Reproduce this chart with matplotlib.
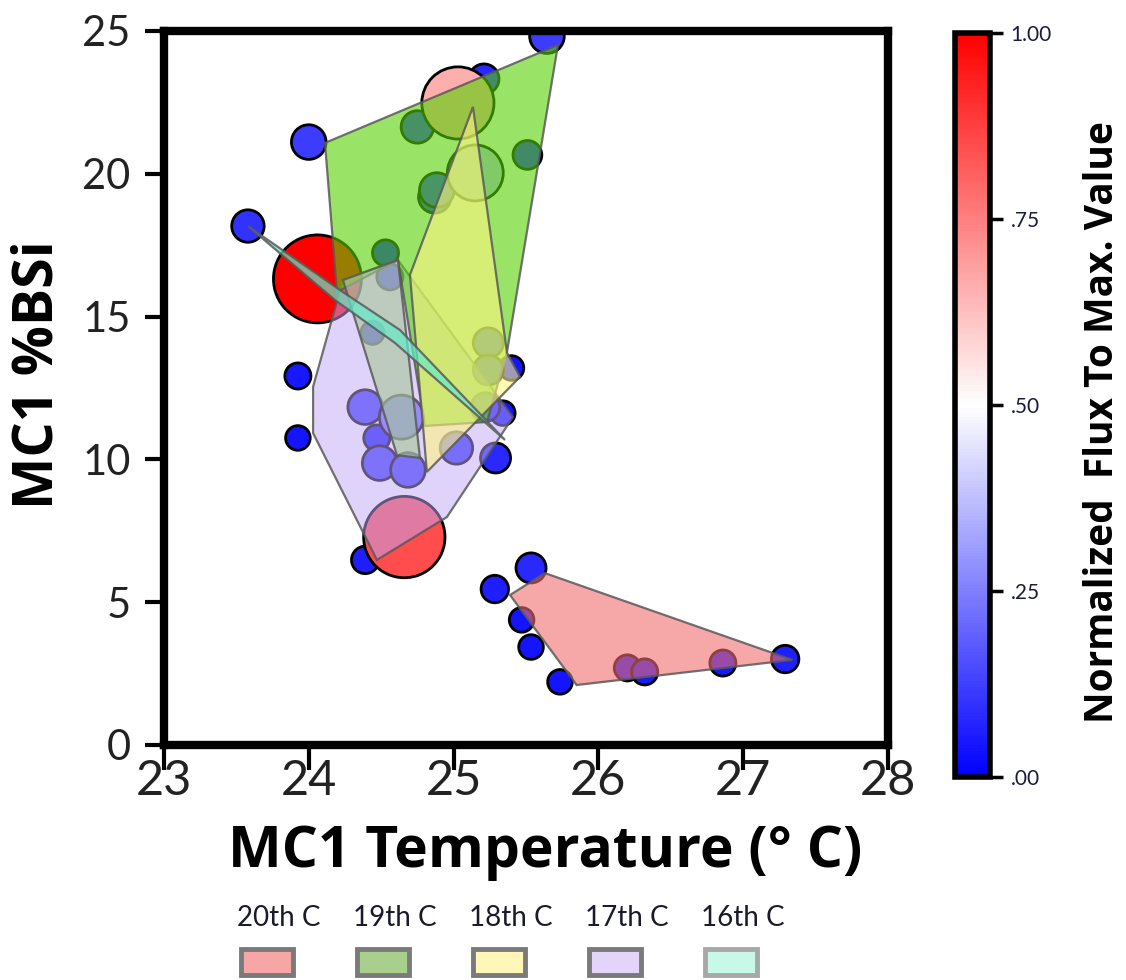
import numpy as np
import matplotlib
matplotlib.use("Agg")
import matplotlib.pyplot as plt
from matplotlib.patches import Polygon, Rectangle
from matplotlib.colors import Normalize
from matplotlib.cm import ScalarMappable

plt.rcParams['font.family'] = ['Lato', 'DejaVu Sans']

# --- sample points: MC1 temperature (C), MC1 %BSi, flux normalized to max ---
temp = [25.645, 24.00, 23.58, 23.925, 23.925, 24.39, 25.29, 25.34, 25.40, 25.21,
        25.535, 25.285, 25.47, 25.535, 25.735, 27.29, 26.20, 26.32, 26.86,
        24.06, 24.66, 25.03,
        24.75, 25.51, 24.885, 24.87, 25.15, 24.53, 24.56,
        24.39, 24.64, 24.47, 24.49, 24.685, 24.44, 25.02, 25.24, 25.24, 25.22]
bsi = [24.82, 21.11, 18.17, 12.92, 10.75, 6.48, 10.05, 11.62, 13.20, 23.32,
       6.20, 5.46, 4.38, 3.43, 2.21, 3.01, 2.70, 2.56, 2.87,
       16.32, 7.28, 22.48,
       21.64, 20.66, 19.43, 19.19, 20.03, 17.23, 16.39,
       11.83, 11.48, 10.75, 9.87, 9.63, 14.43, 10.40, 14.08, 13.13, 11.83]
flux = [0.12, 0.12, 0.10, 0.05, 0.04, 0.06, 0.08, 0.04, 0.04, 0.08,
        0.08, 0.06, 0.04, 0.04, 0.04, 0.06, 0.05, 0.05, 0.05,
        1.00, 0.85, 0.66,
        0.10, 0.07, 0.12, 0.10, 0.38, 0.05, 0.05,
        0.12, 0.22, 0.05, 0.12, 0.12, 0.03, 0.10, 0.08, 0.08, 0.07]

# --- century outlines (temperature, %BSi) ---
c17_x = [24.236, 24.030, 24.030, 24.471, 24.954, 25.410, 24.616]
c17_y = [16.28, 12.54, 10.92, 6.48, 7.98, 11.48, 16.98]
c19_x = [24.112, 25.721, 25.369, 25.231, 24.802, 24.616, 24.195]
c19_y = [21.08, 24.51, 13.76, 11.31, 11.17, 16.98, 15.86]
c16b_x = [24.236, 24.616, 24.768, 24.609]
c16b_y = [16.28, 16.98, 10.05, 10.15]
c18_x = [25.134, 25.369, 25.459, 24.816, 24.699]
c18_y = [22.34, 13.73, 12.89, 9.56, 16.46]
c16_x = [23.580, 24.215, 24.630, 25.355, 24.595, 24.181]
c16_y = [18.17, 15.93, 14.53, 10.68, 14.08, 15.58]
c20_x = [25.39, 25.63, 27.34, 25.85]
c20_y = [5.25, 6.02, 2.98, 2.10]

legend_labels = ["20th C", "19th C", "18th C", "17th C", "16th C"]
legend_colors = ["#f7a6a6", "#a8d08c", "#fff6b8", "#e2d4fa", "#c8f8e8"]
legend_edges = ["#7a7a7a", "#7a7a7a", "#7a7a7a", "#7a7a7a", "#a8a8a8"]

fig = plt.figure(figsize=(11.26, 9.8), dpi=100)
ax = fig.add_axes([0.1456, 0.2398, 0.643, 0.7286])
norm = Normalize(0, 1)
cmap = plt.get_cmap("bwr")

# bubbles: area grows with flux, drawn low-to-high so big red ones sit on top
order = np.argsort(flux, kind="stable")
t = np.array(temp)[order]; b = np.array(bsi)[order]; f = np.array(flux)[order]
ax.scatter(t, b, s=160 + 3850 * f, c=f, cmap=cmap, norm=norm,
           edgecolors="black", linewidths=2.0, zorder=2)

polys = [
    (c17_x, c17_y, (193/255, 169/255, 249/255), 0.5),
    (c19_x, c19_y, (85/255, 210/255, 0.0), 0.6),
    (c16b_x, c16b_y, (167/255, 199/255, 152/255), 0.6),
    (c18_x, c18_y, (1.0, 245/255, 130/255), 0.6),
    (c16_x, c16_y, (100/255, 235/255, 200/255), 0.7),
    (c20_x, c20_y, (240/255, 110/255, 110/255), 0.6),
]
for i, (px, py, col, a) in enumerate(polys):
    ax.add_patch(Polygon(np.column_stack([px, py]), closed=True,
                         facecolor=col + (a,), edgecolor=(0.35, 0.35, 0.35, 0.85),
                         linewidth=1.6, zorder=3 + i))

ax.set_xlim(23, 28)
ax.set_ylim(0, 25)
ax.set_xticks(range(23, 29))
ax.set_yticks(range(0, 26, 5))
for sp in ax.spines.values():
    sp.set_linewidth(6)
ax.tick_params(axis="y", direction="out", length=14, width=3, pad=10,
               labelsize=30, labelcolor="#222222")
ax.tick_params(axis="x", direction="out", length=18, width=3, pad=-8,
               labelsize=35, labelcolor="#222222")

fig.text(0.484, 0.131, "MC1 Temperature (° C)", fontsize=41, fontweight="bold",
         family=["Open Sans", "DejaVu Sans"], ha="center", va="center")
fig.text(0.034, 0.618, "MC1 %BSi", fontsize=40, fontweight="bold", rotation=90,
         family=["Open Sans", "DejaVu Sans"], ha="center", va="center")

# colorbar
cax = fig.add_axes([0.848, 0.207, 0.031, 0.759])
cb = fig.colorbar(ScalarMappable(norm=norm, cmap=cmap), cax=cax)
cb.outline.set_linewidth(4)
cb.set_ticks([0, 0.25, 0.5, 0.75, 1.0])
cb.set_ticklabels([".00", ".25", ".50", ".75", "1.00"])
cax.tick_params(length=9, width=2.5, labelsize=15, pad=6, labelcolor="#1a1a40")
fig.text(0.979, 0.569, "Normalized  Flux To Max. Value", fontsize=28,
         fontweight="bold", rotation=90, family=["Open Sans", "DejaVu Sans"],
         ha="center", va="center")

# century legend along the bottom
W, H = 1126.0, 980.0
for i, (lab, fc, ec) in enumerate(zip(legend_labels, legend_colors, legend_edges)):
    left = 241 + 116 * i
    fig.patches.append(Rectangle((left / W, 5 / H), 52 / W, 26 / H,
                                 transform=fig.transFigure, facecolor=fc,
                                 edgecolor=ec, linewidth=3.5))
    fig.text((left - 4) / W, (H - 918) / H, lab, fontsize=20, ha="left",
             va="center", color="#1a1a2a")

fig.savefig("out.png", dpi=100)
